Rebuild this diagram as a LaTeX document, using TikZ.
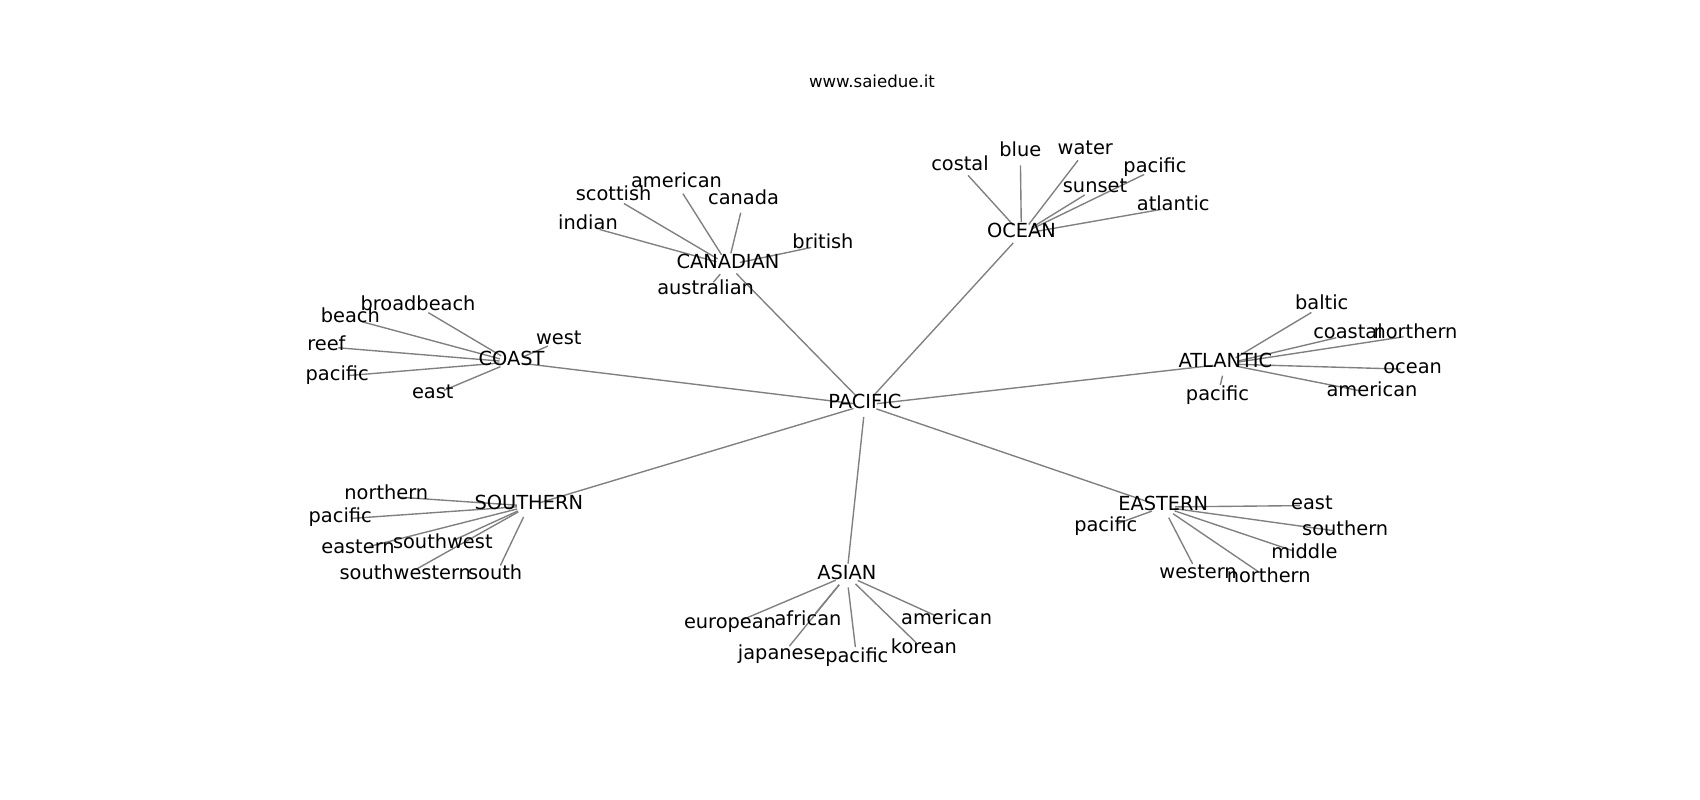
\documentclass[tikz,border=0pt]{standalone}
\usepackage{fontspec}
\setmainfont{DejaVu Sans}
\usetikzlibrary{backgrounds}

\tikzset{
  word/.style={font=\fontsize{14}{17}\selectfont, inner sep=0pt, text height=0.76em, text depth=0.24em, yshift=-0.02in},
  heading/.style={word, font=\fontsize{12}{14}\selectfont},
  link/.style={draw=gray, line width=1pt, shorten <=0.12in, shorten >=0.12in}
}

\begin{document}
\begin{tikzpicture}[x=0.01in, y=-0.01in]
  \useasboundingbox (0,0) rectangle (1700,800);
  \node[heading] (title) at (872,82) {www.saiedue.it};

  \node[word] (pacific) at (865,403) {PACIFIC};

  % hubs
  \node[word] (canadian) at (728,263) {CANADIAN};
  \node[word] (coast) at (511.5,360) {COAST};
  \node[word] (ocean) at (1021.4,232) {OCEAN};
  \node[word] (atlantic) at (1225.4,362) {ATLANTIC};
  \node[word] (southern) at (528.8,504) {SOUTHERN};
  \node[word] (asian) at (846.8,573.5) {ASIAN};
  \node[word] (eastern) at (1163.2,505) {EASTERN};

  % canadian
  \node[word] (canadian-american) at (676.5,181.5) {american};
  \node[word] (canadian-scottish) at (613.6,195.4) {scottish};
  \node[word] (canadian-canada) at (743.6,199) {canada};
  \node[word] (canadian-indian) at (588,224.3) {indian};
  \node[word] (canadian-british) at (823,243) {british};
  \node[word] (canadian-australian) at (705.6,289.4) {australian};

  % coast
  \node[word] (coast-broadbeach) at (418,304.5) {broadbeach};
  \node[word] (coast-beach) at (350.4,316.6) {beach};
  \node[word] (coast-reef) at (326.4,344.8) {reef};
  \node[word] (coast-pacific) at (337.2,374.5) {pacific};
  \node[word] (coast-west) at (558.8,339.3) {west};
  \node[word] (coast-east) at (432.8,393) {east};

  % ocean
  \node[word] (ocean-costal) at (960,164.5) {costal};
  \node[word] (ocean-blue) at (1020.3,151.4) {blue};
  \node[word] (ocean-water) at (1085.3,148.8) {water};
  \node[word] (ocean-pacific) at (1155,167.2) {pacific};
  \node[word] (ocean-sunset) at (1095,186.6) {sunset};
  \node[word] (ocean-atlantic) at (1173.2,205.3) {atlantic};

  % atlantic
  \node[word] (atlantic-baltic) at (1321.7,304.3) {baltic};
  \node[word] (atlantic-coastal) at (1348,333) {coastal};
  \node[word] (atlantic-northern) at (1415.5,333) {northern};
  \node[word] (atlantic-ocean) at (1412.6,367.4) {ocean};
  \node[word] (atlantic-american) at (1372,391.2) {american};
  \node[word] (atlantic-pacific) at (1217.5,394.5) {pacific};

  % southern
  \node[word] (southern-northern) at (386.3,494.3) {northern};
  \node[word] (southern-pacific) at (340.2,517.2) {pacific};
  \node[word] (southern-eastern) at (358,547.4) {eastern};
  \node[word] (southern-southwest) at (442.8,543.2) {southwest};
  \node[word] (southern-southwestern) at (405.3,573.4) {southwestern};
  \node[word] (southern-south) at (495.2,574.3) {south};

  % asian
  \node[word] (asian-european) at (730,623) {european};
  \node[word] (asian-african) at (808,620.3) {african};
  \node[word] (asian-japanese) at (781.8,653.5) {japanese};
  \node[word] (asian-pacific) at (856.8,657) {pacific};
  \node[word] (asian-american) at (946.6,618.7) {american};
  \node[word] (asian-korean) at (924,648.3) {korean};

  % eastern
  \node[word] (eastern-east) at (1311.9,503.5) {east};
  \node[word] (eastern-pacific) at (1105.8,525.8) {pacific};
  \node[word] (eastern-southern) at (1345.2,530.3) {southern};
  \node[word] (eastern-middle) at (1304.5,552.6) {middle};
  \node[word] (eastern-western) at (1198.1,572.5) {western};
  \node[word] (eastern-northern) at (1268.7,576.7) {northern};

  \begin{pgfonlayer}{background}
    \foreach \hub in {canadian,coast,ocean,atlantic,southern,asian,eastern}
      \draw[link] (pacific.center) -- (\hub.center);
    \foreach \leaf in {american,scottish,canada,indian,british,australian}
      \draw[link] (canadian.center) -- (canadian-\leaf.center);
    \foreach \leaf in {broadbeach,beach,reef,pacific,west,east}
      \draw[link] (coast.center) -- (coast-\leaf.center);
    \foreach \leaf in {costal,blue,water,pacific,sunset,atlantic}
      \draw[link] (ocean.center) -- (ocean-\leaf.center);
    \foreach \leaf in {baltic,coastal,northern,ocean,american,pacific}
      \draw[link] (atlantic.center) -- (atlantic-\leaf.center);
    \foreach \leaf in {northern,pacific,eastern,southwest,southwestern,south}
      \draw[link] (southern.center) -- (southern-\leaf.center);
    \foreach \leaf in {european,african,japanese,pacific,american,korean}
      \draw[link] (asian.center) -- (asian-\leaf.center);
    \foreach \leaf in {east,pacific,southern,middle,western,northern}
      \draw[link] (eastern.center) -- (eastern-\leaf.center);
  \end{pgfonlayer}
\end{tikzpicture}
\end{document}
